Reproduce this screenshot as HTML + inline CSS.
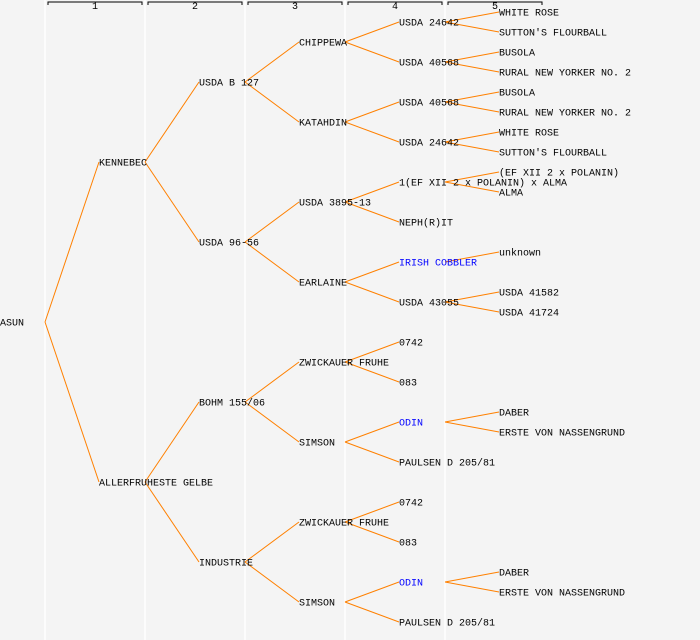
<!DOCTYPE html>
<html><head><meta charset="utf-8">
<style>
html,body{margin:0;padding:0;background:#f4f4f4;}
svg{display:block;}
text{font-family:"Liberation Mono","DejaVu Sans Mono",monospace;font-size:10px;}
</style></head>
<body>
<svg id="chart" width="700" height="640" viewBox="0 0 700 640">
<rect x="0" y="0" width="700" height="640" fill="#f4f4f4"/>
<g id="grid"></g><g id="links"></g><g id="labels"></g>
</svg>
<script>
const generations = ["1","2","3","4","5"];
const blueNames = ["IRISH COBBLER","ODIN"];
// tree: [name, father, mother]
const pedigree = ["ASUN",
 ["KENNEBEC",
  ["USDA B 127",
   ["CHIPPEWA",
    ["USDA 24642",["WHITE ROSE"],["SUTTON'S FLOURBALL"]],
    ["USDA 40568",["BUSOLA"],["RURAL NEW YORKER NO. 2"]]],
   ["KATAHDIN",
    ["USDA 40568",["BUSOLA"],["RURAL NEW YORKER NO. 2"]],
    ["USDA 24642",["WHITE ROSE"],["SUTTON'S FLOURBALL"]]]],
  ["USDA 96-56",
   ["USDA 3895-13",
    ["1(EF XII 2 x POLANIN) x ALMA",["(EF XII 2 x POLANIN)"],["ALMA"]],
    ["NEPH(R)IT"]],
   ["EARLAINE",
    ["IRISH COBBLER",["unknown"]],
    ["USDA 43055",["USDA 41582"],["USDA 41724"]]]]],
 ["ALLERFRUHESTE GELBE",
  ["BOHM 155/06",
   ["ZWICKAUER FRUHE",["0742"],["083"]],
   ["SIMSON",["ODIN",["DABER"],["ERSTE VON NASSENGRUND"]],["PAULSEN D 205/81"]]],
  ["INDUSTRIE",
   ["ZWICKAUER FRUHE",["0742"],["083"]],
   ["SIMSON",["ODIN",["DABER"],["ERSTE VON NASSENGRUND"]],["PAULSEN D 205/81"]]]]];

const NS="http://www.w3.org/2000/svg";
const grid=document.getElementById('grid'),links=document.getElementById('links'),labels=document.getElementById('labels');
function mk(tag,attrs,parent){const e=document.createElementNS(NS,tag);for(const k in attrs)e.setAttribute(k,attrs[k]);parent.appendChild(e);return e;}
const colX=l=>l===0?0:100*l-1;
const rowY=(l,i)=>2+640/Math.pow(2,l)*(i+0.5);

generations.forEach((g,k)=>{
  const x0=48+100*k,x1=142+100*k;
  const sep=mk('line',{x1:45+100*k,y1:0,x2:45+100*k,y2:640,stroke:'#ffffff','stroke-width':1.5},grid);
  
  
  const br=mk('path',{d:`M${x0} 5V2H${x1}V5`,fill:'none',stroke:'#000','stroke-width':1},grid);
  
  
  const t=mk('text',{x:(x0+x1)/2,y:9,'text-anchor':'middle','font-size':8},grid);
  t.textContent=g;
  
  
});

function draw(node,l,i){
  const x=colX(l),y=rowY(l,i);
  const t=mk('text',{x:x,y:y+3.5,fill:blueNames.includes(node[0])?'#0000ff':'#000'},labels);
  t.textContent=node[0];
  
  
  [node[1],node[2]].forEach((c,j)=>{
    if(!c)return;
    const ci=2*i+j;
    const ln=mk('line',{x1:45+100*l,y1:y,x2:colX(l+1),y2:rowY(l+1,ci),stroke:'#ff8000','stroke-width':1},links);
    
    
    draw(c,l+1,ci);
  });
}
draw(pedigree,0,0);
</script>
</body></html>
